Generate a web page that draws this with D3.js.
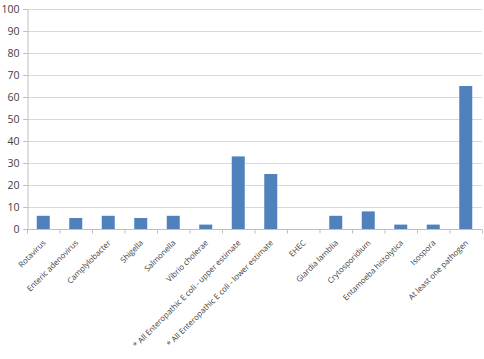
<!DOCTYPE html>
<html><head><meta charset="utf-8">
<script src="https://cdn.jsdelivr.net/npm/d3@7"></script>
<style>body{margin:0;background:#fff}svg{display:block}</style>
</head><body><svg id="c" width="484" height="359"></svg>
<script>
const categories = ["Rotavirus","Enteric adenovirus","Camplylobacter","Shigella","Salmonella","Vibrio cholerae","* All Enteropathic E coli - upper estimate","* All Enteropathic E coli - lower estimate","EHEC","Giardia lamblia","Crytosporidium","Entamoeba histolytica","Isospora","At least one pathogen"];
const values = [6,5,6,5,6,2,33,25,0,6,8,2,2,65];
const yTicks = [0,10,20,30,40,50,60,70,80,90,100];

const svg = d3.select("#c");
const m = {l:27, r:2, t:9, b:130};
const W = 484, H = 359;
const x = d3.scaleBand().domain(categories).range([m.l, W - m.r]).paddingInner(0.6).paddingOuter(0.3);
const xb = d3.scaleBand().domain(categories).range([m.l, W - m.r]);
const y = d3.scaleLinear().domain([0,100]).range([229, 9]);

// gridlines
svg.append("g").selectAll("line").data(yTicks.slice(1)).join("line")
  .attr("x1", m.l - 4).attr("x2", W - m.r).attr("y1", d=>y(d)+0.5).attr("y2", d=>y(d)+0.5)
  .attr("stroke", "#d9d9d9").attr("stroke-width", 1);

// y axis
const ya = svg.append("g").attr("transform", `translate(${m.l+0.5},0)`)
  .call(d3.axisLeft(y).tickValues(yTicks).tickSize(4).tickPadding(4));
ya.select(".domain").attr("stroke", "#bfbfbf");
ya.selectAll(".tick line").attr("stroke", "#bfbfbf");
ya.selectAll("text").attr("font-family", "Open Sans, Liberation Sans, sans-serif").attr("font-size", 10.5).attr("fill", "#404040");

// bars
svg.append("g").selectAll("rect").data(categories).join("rect")
  .attr("x", d=>x(d)).attr("width", x.bandwidth())
  .attr("y", (d,i)=>y(values[i])).attr("height", (d,i)=>y(0)-y(values[i]))
  .attr("fill", "#4f81bd");

// x axis
const xa = svg.append("g").attr("transform", `translate(0,${y(0)+0.5})`);
xa.append("line").attr("x1", m.l).attr("x2", W - m.r).attr("stroke", "#bfbfbf");
xa.selectAll(".tk").data(categories.concat(["__end"])).join("line")
  .attr("x1", (d,i)=> (i<categories.length? xb(d) : W - m.r) + 0.5)
  .attr("x2", (d,i)=> (i<categories.length? xb(d) : W - m.r) + 0.5)
  .attr("y1", 0).attr("y2", 4).attr("stroke", "#bfbfbf");
xa.selectAll("text").data(categories).join("text")
  .attr("transform", d=>`translate(${xb(d)+xb.bandwidth()/2+1},${12}) rotate(-45)`)
  .attr("text-anchor", "end").attr("dy", "0.35em")
  .attr("font-family", "Open Sans, Liberation Sans, sans-serif").attr("font-size", 7.9).attr("fill", "#404040")
  .text(d=>d);
</script></body></html>
